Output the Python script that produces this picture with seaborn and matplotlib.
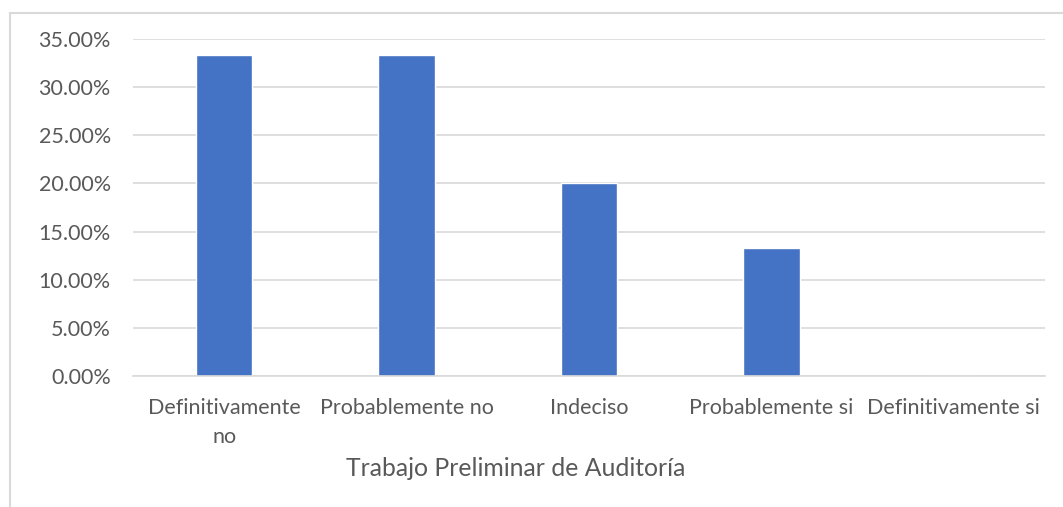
import matplotlib
matplotlib.use("Agg")
import matplotlib.pyplot as plt
import seaborn as sns
import pandas as pd
from matplotlib.patches import Rectangle
from matplotlib.ticker import FuncFormatter

categories = ["Definitivamente\nno", "Probablemente no", "Indeciso", "Probablemente si", "Definitivamente si"]
values = [0.3333, 0.3333, 0.20, 0.1333, 0.0]
yticks = [0.0, 0.05, 0.10, 0.15, 0.20, 0.25, 0.30, 0.35]
xlabel = "Trabajo Preliminar de Auditoría"

sns.set_theme(style="white")
plt.rcParams['font.family'] = ['Lato', 'DejaVu Sans']

df = pd.DataFrame({"cat": categories, "val": values})

W, H = 1063, 507
fig = plt.figure(figsize=(W / 100, H / 100), dpi=100)
ax = fig.add_axes([133 / W, 1 - 376 / H, (1045 - 133) / W, (376 - 39) / H])

sns.barplot(data=df, x="cat", y="val", color="#4472C4", width=0.31, ax=ax, saturation=1)

ax.set_ylim(0, 0.35)
ax.set_yticks(yticks)
ax.yaxis.set_major_formatter(FuncFormatter(lambda v, p: f"{v*100:.2f}%"))
ax.grid(axis="y", color="#d9d9d9", linewidth=1.2)
ax.set_axisbelow(True)
for s in ["top", "right", "left"]:
    ax.spines[s].set_visible(False)
ax.spines["bottom"].set_color("#d9d9d9")
ax.spines["bottom"].set_linewidth(1.2)
ax.tick_params(axis="both", length=0, labelsize=15.5, labelcolor="#595959")
ax.tick_params(axis="y", pad=16)
ax.tick_params(axis="x", pad=16)
for t in ax.get_xticklabels():
    t.set_linespacing(1.55)
ax.set_xlabel("")
ax.set_ylabel("")

fig.text(516 / W, 1 - 468 / H, xlabel, ha="center", va="center", fontsize=17.8, color="#595959")

fig.patches.append(Rectangle((9.5 / W, -0.05), 1.1, 1 - 13 / H + 0.05, transform=fig.transFigure,
                             fill=False, edgecolor="#d9d9d9", linewidth=1.5))

fig.savefig("out.png", dpi=100, facecolor="white")
